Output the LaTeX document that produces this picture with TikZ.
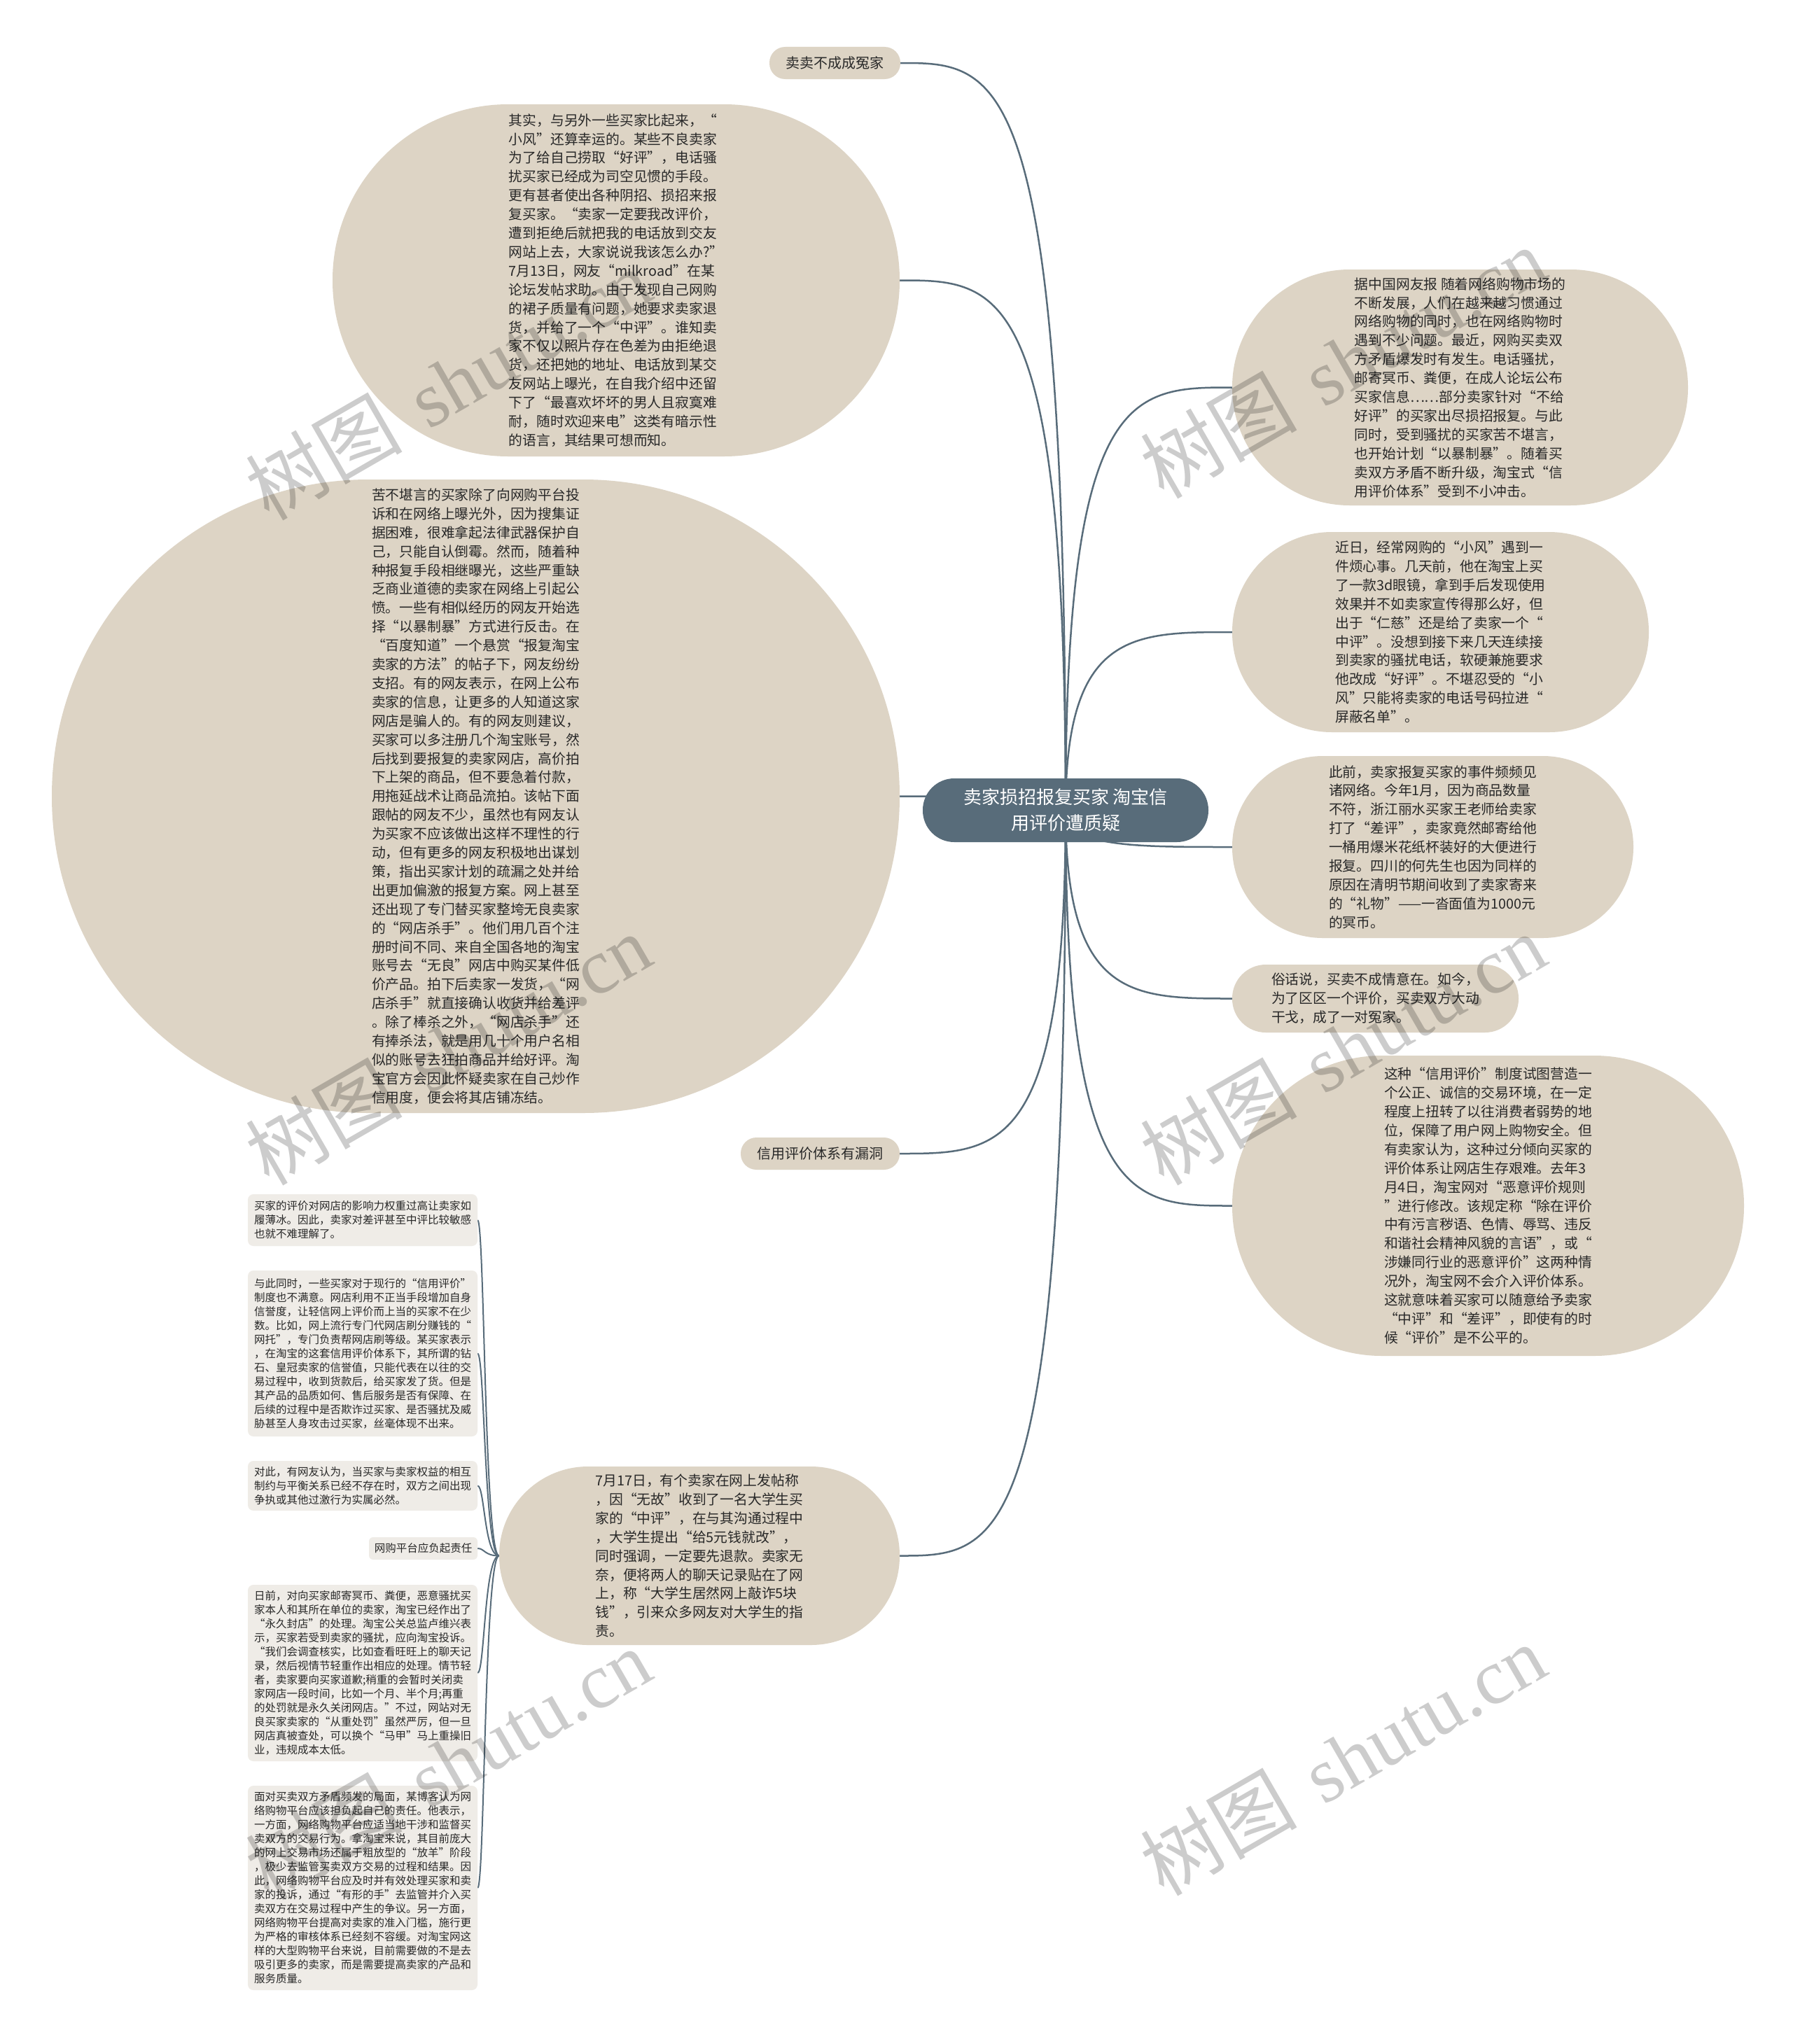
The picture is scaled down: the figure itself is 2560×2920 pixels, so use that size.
\documentclass[tikz,border=0pt]{standalone}
\usepackage{fontspec}
\setmainfont{Noto Sans CJK SC}
\newfontfamily\wmserif{Liberation Serif}
\usetikzlibrary{backgrounds,calc}
\definecolor{beige}{RGB}{221,212,197}
\definecolor{lightbox}{RGB}{239,236,231}
\definecolor{slate}{RGB}{88,108,122}
\definecolor{txt}{RGB}{40,40,40}
\begin{document}
\begin{tikzpicture}[x=1pt,y=-1pt,
  pill/.style={fill=beige, text=txt, align=left, inner sep=0pt, font=\fontsize{19.8}{26.9}\selectfont},
  tag/.style={fill=beige, text=txt, align=center, inner sep=0pt, font=\fontsize{20}{24}\selectfont},
  sbox/.style={fill=lightbox, text=txt, align=left, inner sep=0pt, rounded corners=8pt, font=\fontsize{15.5}{20}\selectfont},
  conn/.style={draw=slate, line width=2.5pt},
  thinconn/.style={draw=slate, line width=2pt},
  wm/.style={rotate=30, text=black, text opacity=0.2, font=\fontsize{112}{112}\selectfont}]
\begin{scope}[on background layer]
\fill[white] (0,0) rectangle (2560,2920);
\end{scope}
\useasboundingbox (0,0) rectangle (2560,2920);

% center
\node[fill=slate, text=white, align=center, inner sep=0pt, minimum width=408pt, minimum height=91pt, rounded corners=45pt, font=\fontsize{26}{37}\selectfont] (ctr) at (1522,1157.5) {卖家损招报复买家 淘宝信\\用评价遭质疑};

% left topics
\node[tag, minimum width=187pt, minimum height=46pt, rounded corners=22.5pt] (t1) at (1192.5,90) {卖卖不成成冤家};

\node[pill, minimum width=810pt, minimum height=503pt, rounded corners=251pt] (t2) at (880,400.5) {其实，与另外一些买家比起来，“\\小风”还算幸运的。某些不良卖家\\为了给自己捞取“好评”，电话骚\\扰买家已经成为司空见惯的手段。\\更有甚者使出各种阴招、损招来报\\复买家。“卖家一定要我改评价，\\遭到拒绝后就把我的电话放到交友\\网站上去，大家说说我该怎么办?”\\7月13日，网友“milkroad”在某\\论坛发帖求助。由于发现自己网购\\的裙子质量有问题，她要求卖家退\\货，并给了一个“中评”。谁知卖\\家不仅以照片存在色差为由拒绝退\\货，还把她的地址、电话放到某交\\友网站上曝光，在自我介绍中还留\\下了“最喜欢坏坏的男人且寂寞难\\耐，随时欢迎来电”这类有暗示性\\的语言，其结果可想而知。};

\node[pill, minimum width=1211pt, minimum height=905pt, rounded corners=452pt] (t3) at (679.5,1137.5) {苦不堪言的买家除了向网购平台投\\诉和在网络上曝光外，因为搜集证\\据困难，很难拿起法律武器保护自\\己，只能自认倒霉。然而，随着种\\种报复手段相继曝光，这些严重缺\\乏商业道德的卖家在网络上引起公\\愤。一些有相似经历的网友开始选\\择“以暴制暴”方式进行反击。在\\“百度知道”一个悬赏“报复淘宝\\卖家的方法”的帖子下，网友纷纷\\支招。有的网友表示，在网上公布\\卖家的信息，让更多的人知道这家\\网店是骗人的。有的网友则建议，\\买家可以多注册几个淘宝账号，然\\后找到要报复的卖家网店，高价拍\\下上架的商品，但不要急着付款，\\用拖延战术让商品流拍。该帖下面\\跟帖的网友不少，虽然也有网友认\\为买家不应该做出这样不理性的行\\动，但有更多的网友积极地出谋划\\策，指出买家计划的疏漏之处并给\\出更加偏激的报复方案。网上甚至\\还出现了专门替买家整垮无良卖家\\的“网店杀手”。他们用几百个注\\册时间不同、来自全国各地的淘宝\\账号去“无良”网店中购买某件低\\价产品。拍下后卖家一发货，“网\\店杀手”就直接确认收货并给差评\\。除了棒杀之外，“网店杀手”还\\有捧杀法，就是用几十个用户名相\\似的账号去狂拍商品并给好评。淘\\宝官方会因此怀疑卖家在自己炒作\\信用度，便会将其店铺冻结。};

\node[tag, minimum width=227pt, minimum height=46pt, rounded corners=22.5pt] (t4) at (1171.5,1648) {信用评价体系有漏洞};

\node[pill, minimum width=572pt, minimum height=255pt, rounded corners=127pt] (t5) at (999,2222.5) {7月17日，有个卖家在网上发帖称\\，因“无故”收到了一名大学生买\\家的“中评”，在与其沟通过程中\\，大学生提出“给5元钱就改”，\\同时强调，一定要先退款。卖家无\\奈，便将两人的聊天记录贴在了网\\上，称“大学生居然网上敲诈5块\\钱”，引来众多网友对大学生的指\\责。};

% small boxes
\node[sbox, minimum width=328pt, minimum height=74pt] (ba) at (518,1743) {买家的评价对网店的影响力权重过高让卖家如\\履薄冰。因此，卖家对差评甚至中评比较敏感\\也就不难理解了。};
\node[sbox, minimum width=328pt, minimum height=237pt] (bb) at (518,1933.5) {与此同时，一些买家对于现行的“信用评价”\\制度也不满意。网店利用不正当手段增加自身\\信誉度，让轻信网上评价而上当的买家不在少\\数。比如，网上流行专门代网店刷分赚钱的“\\网托”，专门负责帮网店刷等级。某买家表示\\，在淘宝的这套信用评价体系下，其所谓的钻\\石、皇冠卖家的信誉值，只能代表在以往的交\\易过程中，收到货款后，给买家发了货。但是\\其产品的品质如何、售后服务是否有保障、在\\后续的过程中是否欺诈过买家、是否骚扰及威\\胁甚至人身攻击过买家，丝毫体现不出来。};
\node[sbox, minimum width=328pt, minimum height=71pt] (bc) at (518,2122.5) {对此，有网友认为，当买家与卖家权益的相互\\制约与平衡关系已经不存在时，双方之间出现\\争执或其他过激行为实属必然。};
\node[sbox, minimum width=155pt, minimum height=32pt, rounded corners=6pt] (bd) at (604.5,2212) {网购平台应负起责任};
\node[sbox, minimum width=328pt, minimum height=252pt] (be) at (518,2390) {日前，对向买家邮寄冥币、粪便，恶意骚扰买\\家本人和其所在单位的卖家，淘宝已经作出了\\“永久封店”的处理。淘宝公关总监卢维兴表\\示，买家若受到卖家的骚扰，应向淘宝投诉。\\“我们会调查核实，比如查看旺旺上的聊天记\\录，然后视情节轻重作出相应的处理。情节轻\\者，卖家要向买家道歉;稍重的会暂时关闭卖\\家网店一段时间，比如一个月、半个月;再重\\的处罚就是永久关闭网店。”不过，网站对无\\良买家卖家的“从重处罚”虽然严厉，但一旦\\网店真被查处，可以换个“马甲”马上重操旧\\业，违规成本太低。};
\node[sbox, minimum width=328pt, minimum height=292pt] (bf) at (518,2697) {面对买卖双方矛盾频发的局面，某博客认为网\\络购物平台应该担负起自己的责任。他表示，\\一方面，网络购物平台应适当地干涉和监督买\\卖双方的交易行为。拿淘宝来说，其目前庞大\\的网上交易市场还属于粗放型的“放羊”阶段\\，极少去监管买卖双方交易的过程和结果。因\\此，网络购物平台应及时并有效处理买家和卖\\家的投诉，通过“有形的手”去监管并介入买\\卖双方在交易过程中产生的争议。另一方面，\\网络购物平台提高对卖家的准入门槛，施行更\\为严格的审核体系已经刻不容缓。对淘宝网这\\样的大型购物平台来说，目前需要做的不是去\\吸引更多的卖家，而是需要提高卖家的产品和\\服务质量。};

% right topics
\node[pill, minimum width=651pt, minimum height=337pt, rounded corners=168pt] (r1) at (2085.5,553.5) {据中国网友报 随着网络购物市场的\\不断发展，人们在越来越习惯通过\\网络购物的同时，也在网络购物时\\遇到不少问题。最近，网购买卖双\\方矛盾爆发时有发生。电话骚扰，\\邮寄冥币、粪便，在成人论坛公布\\买家信息……部分卖家针对“不给\\好评”的买家出尽损招报复。与此\\同时，受到骚扰的买家苦不堪言，\\也开始计划“以暴制暴”。随着买\\卖双方矛盾不断升级，淘宝式“信\\用评价体系”受到不小冲击。};

\node[pill, minimum width=595pt, minimum height=286pt, rounded corners=142.5pt] (r2) at (2057.5,903) {近日，经常网购的“小风”遇到一\\件烦心事。几天前，他在淘宝上买\\了一款3d眼镜，拿到手后发现使用\\效果并不如卖家宣传得那么好，但\\出于“仁慈”还是给了卖家一个“\\中评”。没想到接下来几天连续接\\到卖家的骚扰电话，软硬兼施要求\\他改成“好评”。不堪忍受的“小\\风”只能将卖家的电话号码拉进“\\屏蔽名单”。};

\node[pill, minimum width=573pt, minimum height=260pt, rounded corners=129.5pt] (r3) at (2046.5,1210) {此前，卖家报复买家的事件频频见\\诸网络。今年1月，因为商品数量\\不符，浙江丽水买家王老师给卖家\\打了“差评”，卖家竟然邮寄给他\\一桶用爆米花纸杯装好的大便进行\\报复。四川的何先生也因为同样的\\原因在清明节期间收到了卖家寄来\\的“礼物”——一沓面值为1000元\\的冥币。};

\node[pill, minimum width=409pt, minimum height=97pt, rounded corners=48pt] (r4) at (1964.5,1426.5) {俗话说，买卖不成情意在。如今，\\为了区区一个评价，买卖双方大动\\干戈，成了一对冤家。};

\node[pill, minimum width=731pt, minimum height=429pt, rounded corners=214pt] (r5) at (2125.5,1722.5) {这种“信用评价”制度试图营造一\\个公正、诚信的交易环境，在一定\\程度上扭转了以往消费者弱势的地\\位，保障了用户网上购物安全。但\\有卖家认为，这种过分倾向买家的\\评价体系让网店生存艰难。去年3\\月4日，淘宝网对“恶意评价规则\\”进行修改。该规定称“除在评价\\中有污言秽语、色情、辱骂、违反\\和谐社会精神风貌的言语”，或“\\涉嫌同行业的恶意评价”这两种情\\况外，淘宝网不会介入评价体系。\\这就意味着买家可以随意给予卖家\\“中评”和“差评”，即使有的时\\候“评价”是不公平的。};

% connectors
\begin{scope}[on background layer]
\foreach \n/\a in {t1/east,t2/east,t3/east,t4/east,t5/east,r1/west,r2/west,r3/west,r4/west,r5/west}{
  \draw[conn] (ctr.center) .. controls (ctr.center |- \n.\a) and ($(\n.\a)!0.6!(ctr.center |- \n.\a)$) .. (\n.\a);
}
\foreach \n in {ba,bb,bc,bd,be,bf}{
  \draw[thinconn] (t5.west) .. controls ($(t5.west)+(-21,0)$) and ($(\n.east)+(10,0)$) .. (\n.east);
}
\end{scope}

% watermarks
\node[wm] (w1) at (640,549) {树图\hspace{0.35em}{\wmserif shutu.cn}};
\node[wm] (w2) at (1918,518) {树图\hspace{0.35em}{\wmserif shutu.cn}};
\node[wm] (w3) at (640,1499) {树图\hspace{0.35em}{\wmserif shutu.cn}};
\node[wm] (w4) at (1918,1499) {树图\hspace{0.35em}{\wmserif shutu.cn}};
\node[wm] (w5) at (640,2520) {树图\hspace{0.35em}{\wmserif shutu.cn}};
\node[wm] (w6) at (1918,2514) {树图\hspace{0.35em}{\wmserif shutu.cn}};
\end{tikzpicture}
\end{document}
